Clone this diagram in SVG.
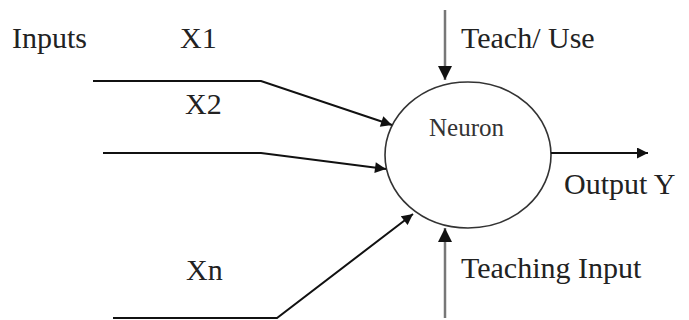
<svg xmlns="http://www.w3.org/2000/svg" width="689" height="320" viewBox="0 0 689 320">
<defs>
<marker id="ah" viewBox="0 0 10 10" refX="10" refY="5" markerWidth="13" markerHeight="11" markerUnits="userSpaceOnUse" orient="auto">
<path d="M0,0 L10,5 L0,10 Z" fill="#111"/>
</marker>
<marker id="ahv" viewBox="0 0 10 10" refX="10" refY="5" markerWidth="15" markerHeight="14" markerUnits="userSpaceOnUse" orient="auto">
<path d="M0,0 L10,5 L0,10 Z" fill="#111"/>
</marker>
</defs>
<style>
.lbl{font-family:"Liberation Serif","Times New Roman",serif;font-size:30px;fill:#222;}
.small{font-family:"Liberation Serif","Times New Roman",serif;font-size:25px;fill:#333;}
.ln{fill:none;stroke:#111;stroke-width:2;}
.gray{fill:none;stroke:#777;stroke-width:2.5;}
</style>
<rect width="689" height="320" fill="#fff"/>
<g id="labels">
<text class="lbl" x="12" y="48">Inputs</text>
<text class="lbl" x="180" y="48">X1</text>
<text class="lbl" x="185" y="114">X2</text>
<text class="lbl" x="186" y="280">Xn</text>
<text class="lbl" x="461" y="48">Teach/ Use</text>
<text class="lbl" x="564" y="194">Output Y</text>
<text class="lbl" x="461" y="278">Teaching Input</text>
</g>
<g id="neuron">
<ellipse cx="468" cy="155" rx="83" ry="73" fill="none" stroke="#333" stroke-width="1.6"/>
<text class="small" x="429" y="136">Neuron</text>
</g>
<g id="connectors">
<polyline class="ln" points="93,81 261,81 392,125" marker-end="url(#ah)"/>
<polyline class="ln" points="103,153 261,153 386,169" marker-end="url(#ah)"/>
<polyline class="ln" points="113,318 277,318 413,214" marker-end="url(#ah)"/>
<line class="ln" x1="551" y1="153" x2="648" y2="153" marker-end="url(#ah)"/>
<line class="gray" x1="445" y1="10" x2="445" y2="80" marker-end="url(#ahv)"/>
<line class="gray" x1="445" y1="318" x2="445" y2="228" marker-end="url(#ahv)"/>
</g>
</svg>
